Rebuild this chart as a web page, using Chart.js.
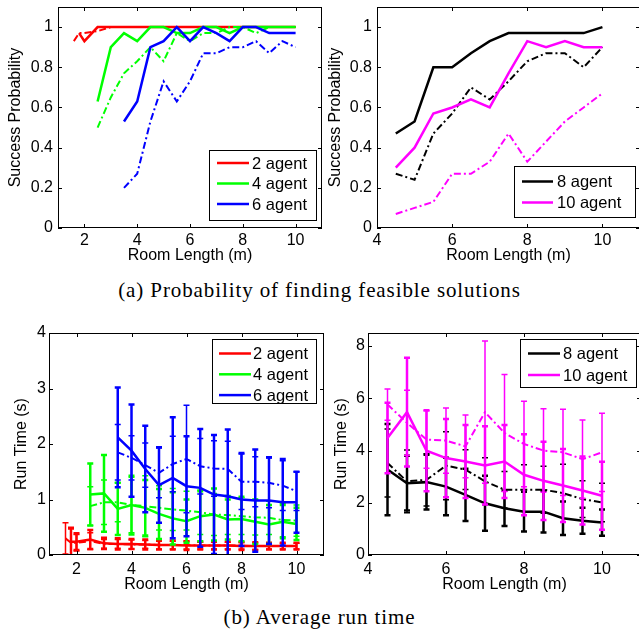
<!DOCTYPE html>
<html>
<head>
<meta charset="utf-8">
<script src="https://cdn.jsdelivr.net/npm/chart.js@4.4.1/dist/chart.umd.min.js"></script>
<style>
  body { margin: 0; background: #fff; width: 639px; height: 631px; overflow: hidden; position: relative; }
  .panel { position: absolute; }
  .caption { position: absolute; left: 0; width: 639px; text-align: center; line-height: 22px;
             font-family: "Liberation Serif", "Times New Roman", serif; font-size: 21px;
             letter-spacing: 0.9px; color: #000; }
</style>
</head>
<body>
<div class="panel" style="left:0;top:0"><canvas id="prob-small" width="330" height="270"></canvas></div>
<div class="panel" style="left:320px;top:0"><canvas id="prob-large" width="322" height="270"></canvas></div>
<div class="caption" style="top:279px">(a) Probability of finding feasible solutions</div>
<div class="panel" style="left:0;top:320px"><canvas id="time-small" width="330" height="280"></canvas></div>
<div class="panel" style="left:320px;top:320px"><canvas id="time-large" width="322" height="280"></canvas></div>
<div class="caption" style="top:606px">(b) Average run time</div>

<script>
// room lengths (m)
const roomLenSmall = [1.6, 1.8, 2, 2.5, 3, 3.5, 4, 4.5, 5, 5.5, 6, 6.5, 7, 7.5, 8, 8.5, 9, 9.5, 10];
const roomLenLarge = [4.5, 5, 5.5, 6, 6.5, 7, 7.5, 8, 8.5, 9, 9.5, 10];

// success probability, solid = method 1, dash-dot = method 2
const prob2Solid = [null, 0.97, 0.93, 1, 1, 1, 1, 1, 1, 1, 1, 1, 1, 1, 1, 1, 1, 1, 1];
const prob2Dash  = [0.93, 0.97, 0.97, 0.98, 1, 1, 1, 1, 1, 1, 1, 1, 1, 1, 1, 1, 1, 1, 1];
const prob4Solid = [null, null, null, 0.63, 0.9, 0.97, 0.93, 1, 1, 0.97, 0.97, 1, 1, 0.97, 1, 1, 1, 1, 1];
const prob4Dash  = [null, null, null, 0.5, 0.65, 0.77, 0.83, 0.9, 0.83, 0.97, 0.93, 0.97, 0.97, 1, 1, 0.97, 1, 1, 1];
const prob6Solid = [null, null, null, null, null, 0.53, 0.63, 0.9, 0.93, 1, 0.93, 1, 0.97, 0.93, 1, 1, 0.97, 0.97, 0.97];
const prob6Dash  = [null, null, null, null, null, 0.2, 0.27, 0.53, 0.73, 0.63, 0.73, 0.87, 0.87, 0.9, 0.9, 0.93, 0.87, 0.93, 0.9];
const prob8Solid  = [0.47, 0.53, 0.8, 0.8, 0.87, 0.93, 0.97, 0.97, 0.97, 0.97, 0.97, 1];
const prob8Dash   = [0.27, 0.24, 0.47, 0.57, 0.7, 0.64, 0.73, 0.83, 0.87, 0.87, 0.8, 0.9];
const prob10Solid = [0.3, 0.4, 0.57, 0.6, 0.64, 0.6, 0.77, 0.93, 0.9, 0.93, 0.9, 0.9];
const prob10Dash  = [0.07, 0.1, 0.13, 0.27, 0.27, 0.33, 0.47, 0.33, 0.43, 0.53, 0.6, 0.67];

// average run time (s) and spread
const time2Solid   = [null, 0.24, 0.24, 0.28, 0.21, 0.2, 0.2, 0.19, 0.18, 0.18, 0.17, 0.17, 0.17, 0.17, 0.16, 0.16, 0.16, 0.16, 0.16];
const time2SolidSd = [null, 0.25, 0.15, 0.17, 0.1, 0.1, 0.09, 0.09, 0.08, 0.08, 0.08, 0.07, 0.07, 0.07, 0.07, 0.07, 0.06, 0.06, 0.06];
const time2Dash    = [0.3, 0.22, 0.22, 0.25, 0.2, 0.2, 0.19, 0.19, 0.18, 0.18, 0.18, 0.17, 0.17, 0.17, 0.17, 0.16, 0.16, 0.16, 0.16];
const time2DashSd  = [0.28, 0.25, 0.15, 0.15, 0.08, 0.08, 0.08, 0.07, 0.07, 0.07, 0.07, 0.06, 0.06, 0.06, 0.06, 0.06, 0.05, 0.05, 0.05];
const time4Solid   = [null, null, null, 1.09, 1.11, 0.83, 0.9, 0.85, 0.74, 0.66, 0.61, 0.7, 0.73, 0.64, 0.65, 0.6, 0.55, 0.6, 0.56];
const time4SolidSd = [null, null, null, 0.56, 0.69, 0.47, 0.53, 0.5, 0.45, 0.47, 0.39, 0.45, 0.47, 0.36, 0.4, 0.4, 0.35, 0.3, 0.29];
const time4Dash    = [null, null, null, 0.88, 0.95, 0.95, 0.9, 0.88, 0.85, 0.82, 0.8, 0.77, 0.73, 0.72, 0.7, 0.68, 0.67, 0.63, 0.62];
const time4DashSd  = [null, null, null, 0.35, 0.4, 0.35, 0.5, 0.55, 0.4, 0.38, 0.35, 0.4, 0.38, 0.35, 0.33, 0.32, 0.3, 0.3, 0.28];
const time6Solid   = [null, null, null, null, null, 2.12, 1.88, 1.55, 1.26, 1.39, 1.24, 1.21, 1.09, 1.06, 1.0, 0.98, 0.98, 0.95, 0.95];
const time6SolidSd = [null, null, null, null, null, 0.9, 0.83, 0.78, 0.68, 1.09, 0.9, 1.06, 1.07, 1.2, 0.84, 0.92, 0.78, 0.78, 0.55];
const time6Dash    = [null, null, null, null, null, 1.85, 1.75, 1.62, 1.48, 1.64, 1.73, 1.6, 1.56, 1.55, 1.32, 1.32, 1.3, 1.25, 1.15];
const time6DashSd  = [null, null, null, null, null, 0.5, 0.4, 0.4, 0.45, 0.5, 0.97, 0.5, 0.5, 0.5, 0.5, 0.45, 0.45, 0.45, 0.35];
const time8Solid    = [3.27, 2.75, 2.79, 2.62, 2.3, 1.98, 1.79, 1.66, 1.66, 1.41, 1.31, 1.24];
const time8SolidSd  = [1.75, 1.05, 1.05, 1.1, 1.0, 1.05, 0.68, 0.76, 0.8, 0.64, 0.5, 0.5];
const time8Dash     = [3.52, 2.82, 2.88, 3.42, 3.27, 2.82, 2.5, 2.5, 2.5, 2.37, 2.14, 2.01];
const time8DashSd   = [1.3, 1.2, 1.0, 1.3, 0.76, 0.9, 0.7, 0.96, 0.9, 1.1, 0.7, 0.74];
const time10Solid   = [4.48, 5.47, 3.99, 3.71, 3.58, 3.43, 3.58, 3.07, 2.84, 2.66, 2.47, 2.27];
const time10SolidSd = [1.35, 2.08, 1.55, 1.5, 1.4, 1.5, 1.4, 1.55, 1.5, 1.4, 1.3, 1.3];
const time10Dash    = [5.76, 5.06, 4.42, 4.38, 4.16, 5.47, 4.67, 4.25, 4.0, 3.93, 3.67, 3.93];
const time10DashSd  = [0.6, 1.25, 1.1, 1.25, 1.2, 2.72, 2.24, 1.64, 1.6, 1.65, 1.5, 1.5];

// tick labels
const xTicksSmall = [2, 4, 6, 8, 10];
const xTicksLarge = [4, 6, 8, 10];
const yTicksProb = [0, 0.2, 0.4, 0.6, 0.8, 1];
const yTicksTimeSmall = [0, 1, 2, 3, 4];
const yTicksTimeLarge = [0, 2, 4, 6, 8];

const FONT = '"Liberation Sans", Arial, Helvetica, sans-serif';
const DASHDOT = [7, 3, 2, 3];

// error bars, axes box with inward ticks, legend box
const matlabLook = {
    id: 'matlabLook',
    afterDatasetDraw: function (chart, args) {
        const ds = chart.data.datasets[args.index];
        if (!ds.sd) return;
        const ctx = chart.ctx, ys = chart.scales.y, a = chart.chartArea;
        ctx.save();
        ctx.beginPath();
        ctx.rect(a.left, a.top, a.right - a.left, a.bottom - a.top);
        ctx.clip();
        ctx.strokeStyle = ds.borderColor;
        ctx.lineWidth = ds.borderDash ? 1.5 : 2.5;
        args.meta.data.forEach(function (pt, i) {
            const v = ds.data[i].y, s = ds.sd[i];
            if (v == null || s == null) return;
            const top = ys.getPixelForValue(v + s), bot = ys.getPixelForValue(v - s);
            ctx.beginPath();
            ctx.moveTo(pt.x, top); ctx.lineTo(pt.x, bot);
            ctx.moveTo(pt.x - 3, top); ctx.lineTo(pt.x + 3, top);
            ctx.moveTo(pt.x - 3, bot); ctx.lineTo(pt.x + 3, bot);
            ctx.stroke();
        });
        ctx.restore();
    },
    afterDraw: function (chart, args, opts) {
        const ctx = chart.ctx, a = chart.chartArea;
        const xs = chart.scales.x, ys = chart.scales.y;
        ctx.save();
        ctx.strokeStyle = '#000';
        ctx.lineWidth = 1;
        ctx.strokeRect(a.left + 0.5, a.top + 0.5, a.right - a.left - 1, a.bottom - a.top - 1);
        ctx.beginPath();
        xs.ticks.forEach(function (t) {
            const px = Math.round(xs.getPixelForValue(t.value)) + 0.5;
            ctx.moveTo(px, a.bottom); ctx.lineTo(px, a.bottom - 4);
            ctx.moveTo(px, a.top); ctx.lineTo(px, a.top + 4);
        });
        ys.ticks.forEach(function (t) {
            const py = Math.round(ys.getPixelForValue(t.value)) + 0.5;
            ctx.moveTo(a.left, py); ctx.lineTo(a.left + 4, py);
            ctx.moveTo(a.right, py); ctx.lineTo(a.right - 4, py);
        });
        ctx.stroke();

        // legend, solid series only, in plotting order
        const b = opts.box;
        if (b) {
            ctx.fillStyle = '#fff';
            ctx.fillRect(b.x, b.y, b.w, b.h);
            ctx.strokeRect(b.x + 0.5, b.y + 0.5, b.w, b.h);
            ctx.font = '16.5px ' + FONT;
            ctx.textBaseline = 'middle';
            ctx.textAlign = 'left';
            let row = 0;
            chart.data.datasets.slice().reverse().forEach(function (ds) {
                if (ds.borderDash) return;
                const y = b.y + b.first + row * b.step;
                ctx.strokeStyle = ds.borderColor;
                ctx.lineWidth = 2.5;
                ctx.beginPath();
                ctx.moveTo(b.x + b.lineFrom, y); ctx.lineTo(b.x + b.lineTo, y);
                ctx.stroke();
                ctx.fillStyle = '#000';
                ctx.fillText(ds.label, b.x + b.text, y + 1);
                row++;
            });
        }
        ctx.restore();
    }
};

function series(label, color, xs, ys, sd, dashed) {
    return {
        label: label,
        data: xs.map(function (x, i) { return { x: x, y: ys[i] }; }),
        sd: sd,
        borderColor: color,
        backgroundColor: color,
        borderWidth: dashed ? 2 : 2.5,
        borderDash: dashed ? DASHDOT : undefined,
        pointRadius: 0,
        tension: 0,
        spanGaps: false,
        fill: false
    };
}

function drawPanel(id, datasets, cfg) {
    const ctx = document.getElementById(id).getContext('2d');
    return new Chart(ctx, {
        type: 'line',
        data: { datasets: datasets },
        plugins: [matlabLook],
        options: {
            responsive: false,
            animation: false,
            layout: { padding: cfg.padding },
            plugins: {
                legend: { display: false },
                tooltip: { enabled: false },
                matlabLook: { box: cfg.legend }
            },
            scales: {
                x: {
                    type: 'linear',
                    min: cfg.xMin, max: cfg.xMax,
                    grid: { display: false, drawTicks: false },
                    border: { display: false },
                    afterBuildTicks: function (s) { s.ticks = cfg.xTicks.map(function (v) { return { value: v }; }); },
                    afterFit: function (s) { s.height = cfg.xHeight; s.paddingLeft = 0; s.paddingRight = 0; },
                    ticks: {
                        padding: cfg.xTickPad, color: '#000', maxRotation: 0,
                        font: { family: FONT, size: 16 },
                        callback: function (v) { return String(v); }
                    },
                    title: {
                        display: true, text: 'Room Length (m)', color: '#000',
                        font: { family: FONT, size: 16 }, padding: { top: 0, bottom: cfg.xTitlePad }
                    }
                },
                y: {
                    type: 'linear',
                    min: 0, max: cfg.yMax,
                    grid: { display: false, drawTicks: false },
                    border: { display: false },
                    afterBuildTicks: function (s) { s.ticks = cfg.yTicks.map(function (v) { return { value: v }; }); },
                    afterFit: function (s) { s.width = cfg.yWidth; s.paddingTop = 0; s.paddingBottom = 0; },
                    ticks: {
                        padding: cfg.yTickPad, color: '#000',
                        font: { family: FONT, size: 16 },
                        callback: function (v) { return String(v); }
                    },
                    title: {
                        display: true, text: cfg.yTitle, color: '#000',
                        font: { family: FONT, size: 16 }, padding: { top: cfg.yTitlePad, bottom: 0 }
                    }
                }
            }
        }
    });
}

// (a) left: 2, 4, 6 agents
drawPanel('prob-small', [
    series('2 agent', '#ff0000', roomLenSmall, prob2Solid, null, false),
    series('2 agent dash', '#ff0000', roomLenSmall, prob2Dash, null, true),
    series('4 agent', '#00ff00', roomLenSmall, prob4Solid, null, false),
    series('4 agent dash', '#00ff00', roomLenSmall, prob4Dash, null, true),
    series('6 agent', '#0000ff', roomLenSmall, prob6Solid, null, false),
    series('6 agent dash', '#0000ff', roomLenSmall, prob6Dash, null, true)
].reverse(), {
    padding: { left: 0, top: 7, right: 8, bottom: 0 },
    xMin: 1, xMax: 11, yMax: 1.1, xTicks: xTicksSmall, yTicks: yTicksProb,
    xHeight: 42, yWidth: 58, xTickPad: 3, yTickPad: 5, xTitlePad: 5, yTitlePad: 6,
    yTitle: 'Success Probability',
    legend: { x: 209, y: 150, w: 107, h: 70, first: 13, step: 20.5, lineFrom: 8, lineTo: 40, text: 43 }
});

// (a) right: 8, 10 agents
drawPanel('prob-large', [
    series('8 agent', '#000000', roomLenLarge, prob8Solid, null, false),
    series('8 agent dash', '#000000', roomLenLarge, prob8Dash, null, true),
    series('10 agent', '#ff00ff', roomLenLarge, prob10Solid, null, false),
    series('10 agent dash', '#ff00ff', roomLenLarge, prob10Dash, null, true)
].reverse(), {
    padding: { left: 0, top: 7, right: 2, bottom: 0 },
    xMin: 4, xMax: 11, yMax: 1.1, xTicks: xTicksLarge, yTicks: yTicksProb,
    xHeight: 42, yWidth: 57, xTickPad: 3, yTickPad: 5, xTitlePad: 5, yTitlePad: 6,
    yTitle: 'Success Probability',
    legend: { x: 194, y: 166, w: 121, h: 51, first: 15.5, step: 21, lineFrom: 8, lineTo: 39, text: 43 }
});

// (b) left: run times with spread
drawPanel('time-small', [
    series('2 agent', '#ff0000', roomLenSmall, time2Solid, time2SolidSd, false),
    series('2 agent dash', '#ff0000', roomLenSmall, time2Dash, time2DashSd, true),
    series('4 agent', '#00ff00', roomLenSmall, time4Solid, time4SolidSd, false),
    series('4 agent dash', '#00ff00', roomLenSmall, time4Dash, time4DashSd, true),
    series('6 agent', '#0000ff', roomLenSmall, time6Solid, time6SolidSd, false),
    series('6 agent dash', '#0000ff', roomLenSmall, time6Dash, time6DashSd, true)
].reverse(), {
    padding: { left: 0, top: 13, right: 6, bottom: 0 },
    xMin: 1, xMax: 11, yMax: 4, xTicks: xTicksSmall, yTicks: yTicksTimeSmall,
    xHeight: 45, yWidth: 49, xTickPad: 5, yTickPad: 3, xTitlePad: 6, yTitlePad: 12,
    yTitle: 'Run Time (s)',
    legend: { x: 212, y: 19, w: 104, h: 64, first: 14.5, step: 20.8, lineFrom: 7, lineTo: 39, text: 41 }
});

// (b) right
drawPanel('time-large', [
    series('8 agent', '#000000', roomLenLarge, time8Solid, time8SolidSd, false),
    series('8 agent dash', '#000000', roomLenLarge, time8Dash, time8DashSd, true),
    series('10 agent', '#ff00ff', roomLenLarge, time10Solid, time10SolidSd, false),
    series('10 agent dash', '#ff00ff', roomLenLarge, time10Dash, time10DashSd, true)
].reverse(), {
    padding: { left: 0, top: 13, right: 1, bottom: 0 },
    xMin: 4, xMax: 11, yMax: 8.5, xTicks: xTicksLarge, yTicks: yTicksTimeLarge,
    xHeight: 45, yWidth: 48, xTickPad: 5, yTickPad: 3, xTitlePad: 6, yTitlePad: 12,
    yTitle: 'Run Time (s)',
    legend: { x: 200, y: 19, w: 116, h: 48, first: 14.5, step: 21.5, lineFrom: 8, lineTo: 40, text: 43 }
});
</script>
</body>
</html>
